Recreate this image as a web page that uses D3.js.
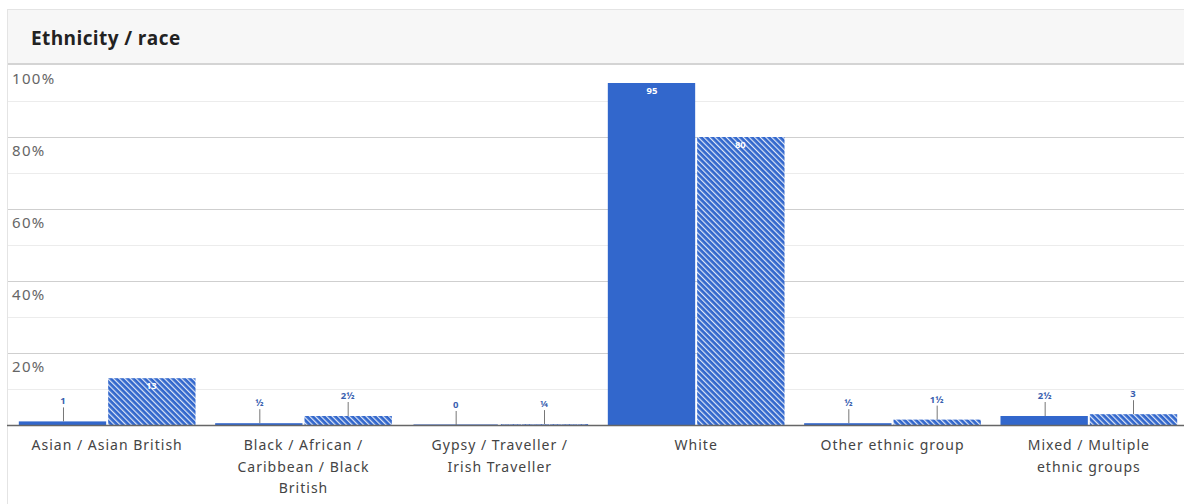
<!DOCTYPE html>
<html>
<head>
<meta charset="utf-8">
<script src="https://cdn.jsdelivr.net/npm/d3@7"></script>
<style>
  html, body { margin: 0; padding: 0; background: #fff; }
  svg { display: block; }
  .title { font-family: "Open Sans", sans-serif; font-weight: 700; font-size: 19px; fill: #222; letter-spacing: 0.4px; }
  .ytick { font-family: "Noto Sans", sans-serif; font-size: 15px; fill: #666; letter-spacing: 1.3px; }
  .xtick { font-family: "Noto Sans", sans-serif; font-size: 14px; fill: #444; letter-spacing: 1px; }
  .val { font-family: "Noto Sans", sans-serif; font-size: 9.5px; font-weight: 700; }
</style>
</head>
<body>
<div id="chart"></div>
<script>
const categories = [
  'Asian / Asian British',
  'Black / African / Caribbean / Black British',
  'Gypsy / Traveller / Irish Traveller',
  'White',
  'Other ethnic group',
  'Mixed / Multiple ethnic groups'
];
const seriesSolid = [1, 0.5, 0, 95, 0.5, 2.5];
const seriesHatched = [13, 2.5, 0.25, 80, 1.5, 3];
const yTicks = [0, 20, 40, 60, 80, 100];
const yMinorTicks = [10, 30, 50, 70, 90];

const W = 1184, H = 504;
const blue = '#3267cc';

const svg = d3.select('#chart').append('svg')
  .attr('width', W).attr('height', H);

const defs = svg.append('defs');
const pat = defs.append('pattern')
  .attr('id', 'hatch')
  .attr('patternUnits', 'userSpaceOnUse')
  .attr('width', 4).attr('height', 4)
  .attr('patternTransform', 'rotate(-45)');
pat.append('rect').attr('width', 4).attr('height', 4).attr('fill', blue);
pat.append('rect').attr('x', 0).attr('y', 0).attr('width', 1.2).attr('height', 4).attr('fill', '#fff').attr('opacity', 0.85);

// card + header
svg.append('rect').attr('x', 7.5).attr('y', 9.5).attr('width', W).attr('height', H)
  .attr('fill', '#fff').attr('stroke', '#e4e4e4');
svg.append('rect').attr('x', 8).attr('y', 10).attr('width', W).attr('height', 53).attr('fill', '#f7f7f7');
svg.append('rect').attr('x', 8).attr('y', 63).attr('width', W).attr('height', 2).attr('fill', '#d4d4d4');
svg.append('text').attr('class', 'title').attr('x', 31).attr('y', 45).text('Ethnicity / race');

const y = d3.scaleLinear().domain([0, 100]).range([425, 65]);
const x0 = d3.scaleBand().domain(categories).range([9, 1187]).paddingInner(0.1).paddingOuter(0.05);
const x1 = d3.scaleBand().domain(['solid', 'hatched']).range([0, x0.bandwidth()]);

// grid
svg.append('g').selectAll('line').data(yMinorTicks).join('line')
  .attr('x1', 8).attr('x2', W).attr('y1', d => y(d) + 0.5).attr('y2', d => y(d) + 0.5)
  .attr('stroke', '#ececec');
svg.append('g').selectAll('line').data(yTicks.filter(d => d > 0 && d < 100)).join('line')
  .attr('x1', 8).attr('x2', W).attr('y1', d => y(d) + 0.5).attr('y2', d => y(d) + 0.5)
  .attr('stroke', '#cfcfcf');
svg.append('g').selectAll('text').data(yTicks.filter(d => d > 0)).join('text')
  .attr('class', 'ytick').attr('x', 12).attr('y', d => y(d) + 19)
  .text(d => d + '%');

// bars
const rows = [];
categories.forEach((c, i) => {
  rows.push({ cat: c, key: 'solid', v: seriesSolid[i] });
  rows.push({ cat: c, key: 'hatched', v: seriesHatched[i] });
});

const fmt = v => {
  const whole = Math.floor(v), frac = v - whole;
  const f = frac === 0.5 ? '½' : frac === 0.25 ? '¼' : frac === 0.75 ? '¾' : '';
  return (whole === 0 && f ? '' : String(whole)) + f;
};

const bars = svg.append('g');
bars.selectAll('rect').data(rows).join('rect')
  .attr('x', d => x0(d.cat) + x1(d.key) + (d.key === 'hatched' ? 1 : 0))
  .attr('y', d => y(d.v))
  .attr('width', x1.bandwidth() - 1)
  .attr('height', d => Math.max(0, y(0) - y(d.v)))
  .attr('fill', d => d.key === 'solid' ? blue : 'url(#hatch)');

// zero-height hint bars
bars.selectAll('line.zero').data(rows.filter(d => d.v < 0.3)).join('line')
  .attr('class', 'zero')
  .attr('x1', d => x0(d.cat) + x1(d.key) + 2)
  .attr('x2', d => x0(d.cat) + x1(d.key) + x1.bandwidth() - 2)
  .attr('y1', y(0) - 0.5).attr('y2', y(0) - 0.5)
  .attr('stroke', '#8fa6d8').attr('stroke-dasharray', d => d.key === 'hatched' ? '3,1' : null);

// value labels
const big = d => d.v >= 10;
const labels = svg.append('g');
labels.selectAll('line').data(rows.filter(d => !big(d))).join('line')
  .attr('x1', d => x0(d.cat) + x1(d.key) + x1.bandwidth() / 2 + 0.5)
  .attr('x2', d => x0(d.cat) + x1(d.key) + x1.bandwidth() / 2 + 0.5)
  .attr('y1', d => y(d.v) - 14).attr('y2', d => y(d.v))
  .attr('stroke', '#777');
labels.selectAll('text').data(rows).join('text')
  .attr('class', 'val')
  .attr('text-anchor', 'middle')
  .attr('x', d => x0(d.cat) + x1(d.key) + x1.bandwidth() / 2)
  .attr('y', d => big(d) ? y(d.v) + 11 : y(d.v) - 17)
  .attr('fill', d => big(d) ? '#fff' : '#3a5fb0')
  .text(d => fmt(d.v));

// x axis
svg.append('line').attr('x1', 7).attr('x2', W).attr('y1', 425.5).attr('y2', 425.5)
  .attr('stroke', '#666').attr('stroke-width', 1.5);

function wrap(textSel, width) {
  textSel.each(function () {
    const t = d3.select(this);
    const words = t.text().split(/\s+/);
    t.text(null);
    const xx = t.attr('x');
    let line = [];
    let tspan = t.append('tspan').attr('x', xx).attr('dy', 0);
    words.forEach(w => {
      line.push(w);
      tspan.text(line.join(' '));
      if (tspan.node().getComputedTextLength() > width && line.length > 1) {
        line.pop();
        tspan.text(line.join(' '));
        line = [w];
        tspan = t.append('tspan').attr('x', xx).attr('dy', 21.5).text(w);
      }
    });
  });
}

svg.append('g').selectAll('text').data(categories).join('text')
  .attr('class', 'xtick')
  .attr('text-anchor', 'middle')
  .attr('x', d => x0(d) + x0.bandwidth() / 2)
  .attr('y', 450)
  .text(d => d)
  .call(wrap, x0.bandwidth() - 4);
</script>
</body>
</html>
